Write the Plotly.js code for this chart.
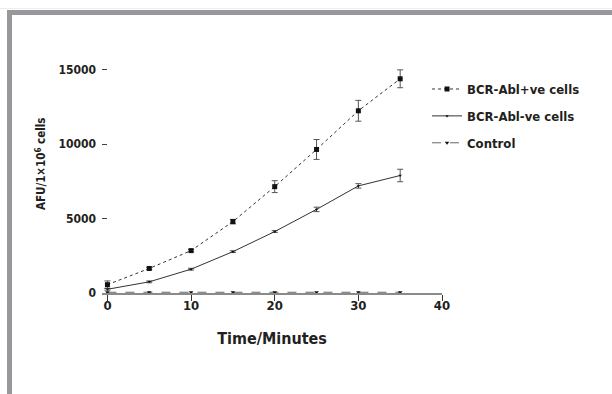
<!DOCTYPE html>
<html>
<head>
<meta charset="utf-8">
<script src="https://cdn.plot.ly/plotly-3.0.1.min.js"></script>
<style>
  html, body { margin: 0; padding: 0; background: #fff; }
  #wrap { position: relative; width: 612px; height: 394px; overflow: hidden; }
  #frameTop { position: absolute; left: 7px; top: 10px; width: 605px; height: 5px; background: #97989b; }
  #frameLeft { position: absolute; left: 7px; top: 10px; width: 5px; height: 384px; background: #97989b; }
  #frameHair { position: absolute; left: 0; top: 8px; width: 612px; height: 1px; background: #ececec; }
  #chart { position: absolute; left: 0; top: 0; width: 612px; height: 394px; }
</style>
</head>
<body>
<div id="wrap">
  <div id="chart"></div>
  <div id="frameHair"></div>
  <div id="frameTop"></div>
  <div id="frameLeft"></div>
</div>
<script>
// ---- data ----
var timeMinutes = [0, 5, 10, 15, 20, 25, 30, 35];
var posCells    = [560, 1650, 2850, 4800, 7150, 9650, 12250, 14400];
var posErr      = [250, 80, 80, 150, 400, 670, 700, 600];
var negCells    = [250, 750, 1600, 2780, 4130, 5620, 7200, 7900];
var negErr      = [60, 60, 60, 60, 60, 150, 150, 420];
var controlVals = [50, 50, 50, 50, 50, 50, 50, 50];
var seriesNames = ['BCR-Abl+ve cells', 'BCR-Abl-ve cells', 'Control'];
var xTicks = [0, 10, 20, 30, 40];
var yTicks = [0, 5000, 10000, 15000];

var FONT = 'DejaVu Sans Condensed, DejaVu Sans, sans-serif';
var ink = '#231f20';
function f(size) { return {family: FONT, size: size, color: ink, weight: 'bold', stretch: 'condensed'}; }

var traces = [
  {
    x: timeMinutes, y: posCells, name: seriesNames[0], type: 'scatter', mode: 'lines+markers',
    line: {color: '#333', width: 1, dash: 'dot'},
    marker: {symbol: 'square', size: 5, color: '#111'},
    error_y: {type: 'data', array: posErr, visible: true, color: '#555', thickness: 1, width: 3},
    legendgroup: 'a'
  },
  {
    x: timeMinutes, y: negCells, name: seriesNames[1], type: 'scatter', mode: 'lines+markers',
    line: {color: '#333', width: 1},
    marker: {symbol: 'triangle-down', size: 3, color: '#111'},
    error_y: {type: 'data', array: negErr, visible: true, color: '#555', thickness: 1, width: 3},
    legendgroup: 'b'
  },
  {
    x: timeMinutes, y: controlVals, name: seriesNames[2], type: 'scatter', mode: 'lines+markers',
    line: {color: '#666', width: 1, dash: 'dash'},
    marker: {symbol: 'triangle-down', size: 4, color: '#111'},
    legendgroup: 'c'
  }
];

var layout = {
  width: 612, height: 394,
  margin: {l: 102, r: 170, t: 55, b: 101},
  paper_bgcolor: 'rgba(0,0,0,0)', plot_bgcolor: 'rgba(0,0,0,0)',
  font: {family: FONT, color: ink},
  showlegend: true,
  legend: {
    x: 0.956, xanchor: 'left', y: 0.92, yanchor: 'top',
    font: f(13),
    tracegroupgap: 7, bgcolor: 'rgba(0,0,0,0)'
  },
  xaxis: {
    range: [-0.65, 40], tickvals: xTicks, ticktext: xTicks.map(String),
    showgrid: false, zeroline: false,
    showline: true, linecolor: '#8a8a8a', linewidth: 2,
    ticks: 'outside', ticklen: 6, tickcolor: '#333', tickwidth: 1,
    ticklabelstandoff: -7,
    tickfont: f(13),
    title: {text: 'Time/Minutes', font: f(16), standoff: 21}
  },
  yaxis: {
    range: [0, 16000], tickvals: yTicks, ticktext: yTicks.map(String),
    showgrid: false, zeroline: false, showline: false,
    ticks: 'inside', ticklen: 5, tickcolor: '#444', tickwidth: 1,
    ticklabelstandoff: 5,
    tickfont: f(12)
  },
  annotations: [{
    text: 'AFU/1×10<sup>6</sup> cells', textangle: -90,
    xref: 'paper', yref: 'paper', x: -0.18, y: 0.545, xanchor: 'center', yanchor: 'middle',
    showarrow: false, font: f(11.5)
  }]
};

Plotly.newPlot('chart', traces, layout, {displayModeBar: false, staticPlot: true});
</script>
</body>
</html>
